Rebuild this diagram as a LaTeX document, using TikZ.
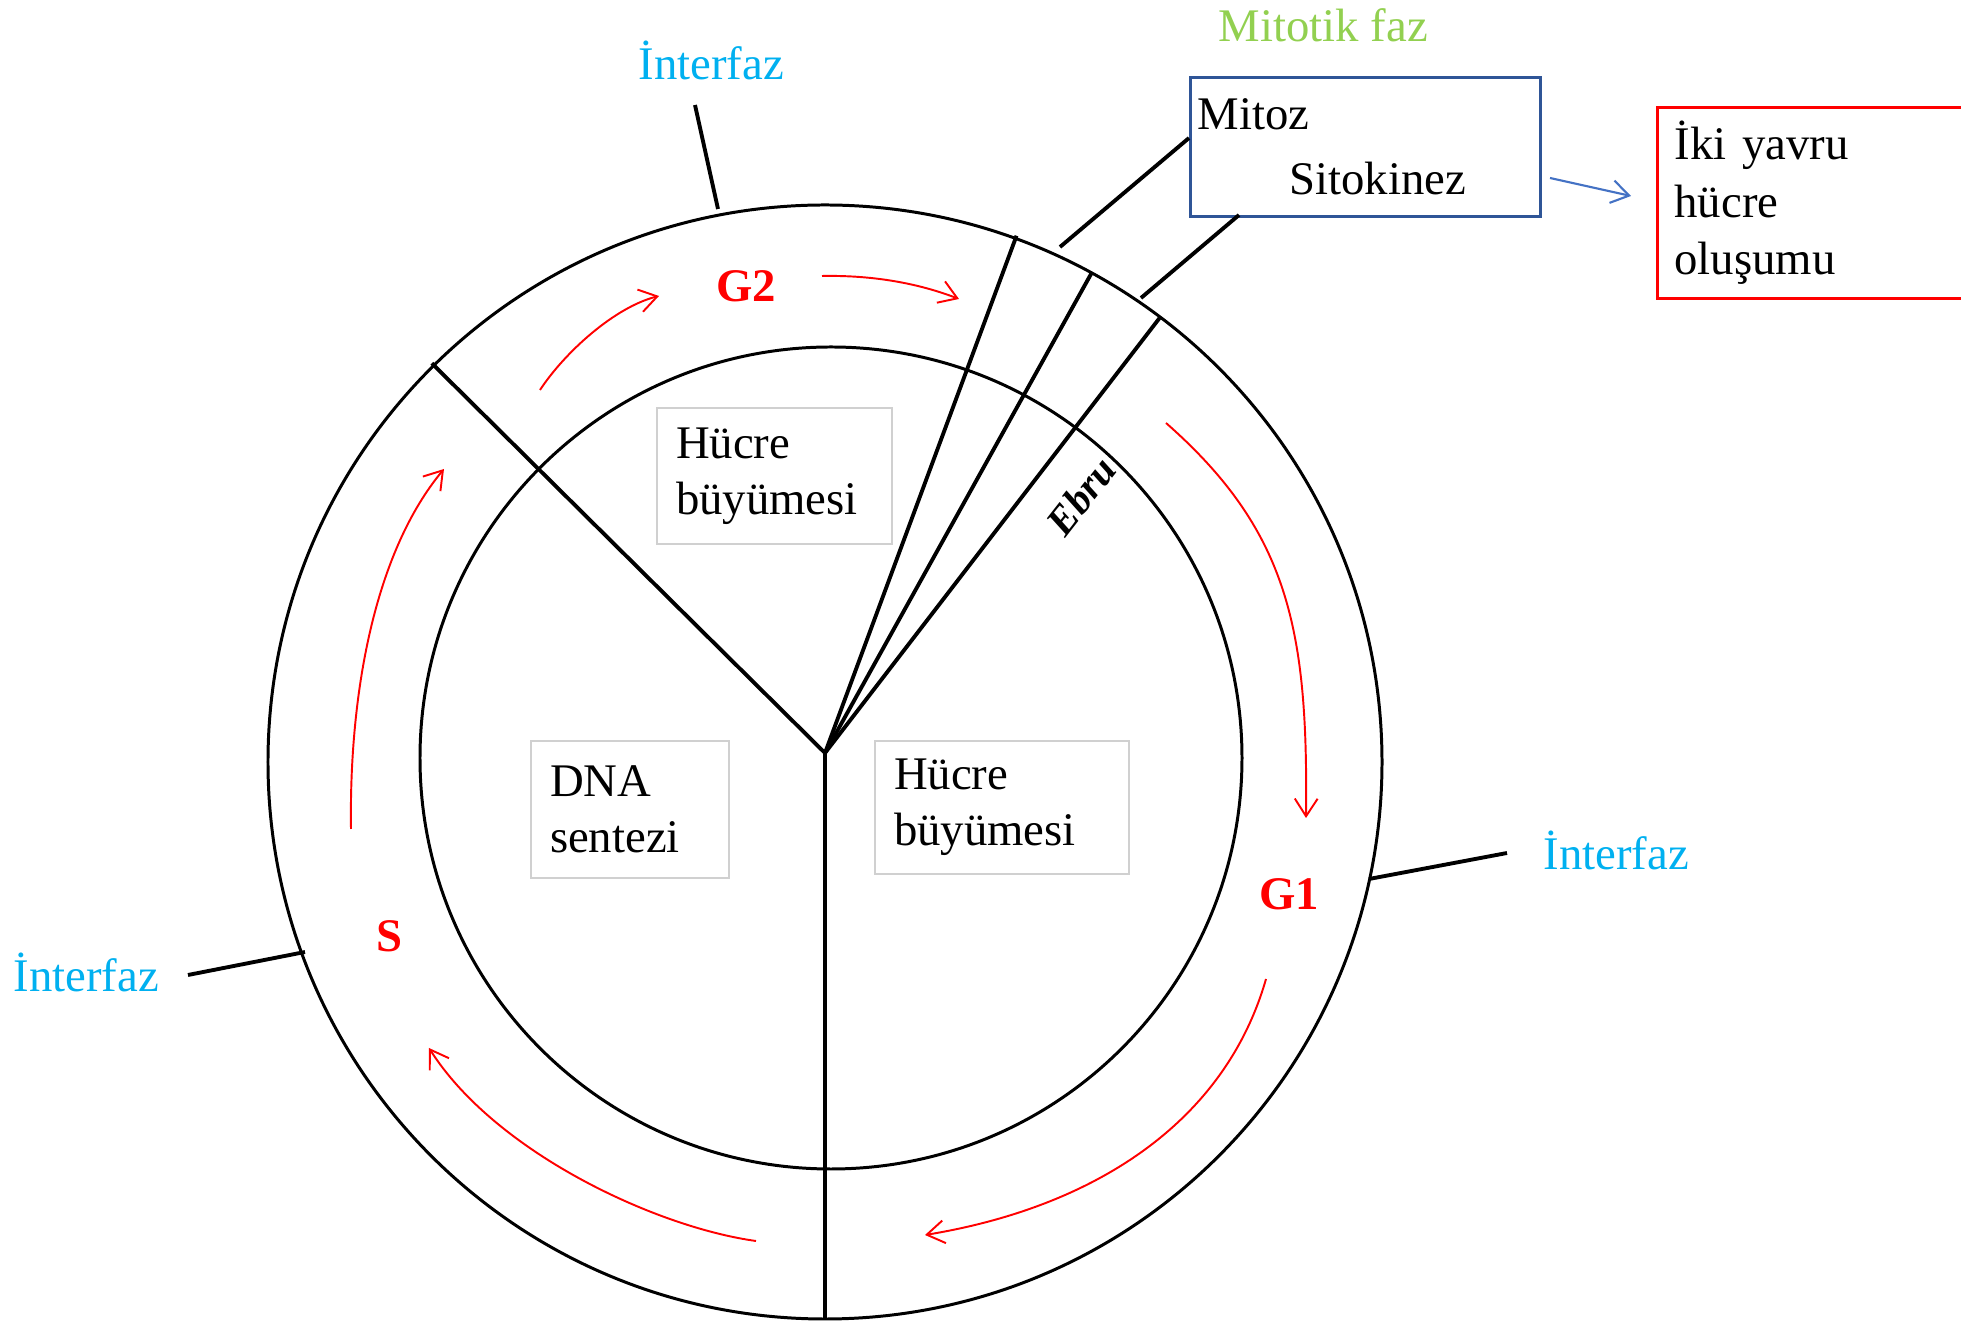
\documentclass[tikz,border=0pt]{standalone}
\usepackage{fontspec}
\setmainfont{Liberation Serif}
\usetikzlibrary{arrows.meta}
\definecolor{interfaz}{HTML}{00B0F0}
\definecolor{mitotik}{HTML}{92D050}
\definecolor{boxblue}{HTML}{2F5597}
\definecolor{arrowblue}{HTML}{4472C4}
\definecolor{boxgray}{HTML}{D0D0D0}
\begin{document}
\begin{tikzpicture}[
  every node/.style={font=\fontsize{13.3}{16}\selectfont},
  wall/.style={line width=1.1pt},
  cyclearrow/.style={red, line width=0.55pt, -{Straight Barb[length=5pt,width=6.5pt]}},
  cellbox/.style={draw=boxgray, line width=0.6pt, anchor=north west, align=left, inner xsep=0.19cm},
  phase/.style={red, font=\fontsize{13.3}{16}\selectfont\bfseries, anchor=base},
  itext/.style={interfaz, anchor=base west, inner sep=0pt}]
  \useasboundingbox (-8.25,-5.64) rectangle (11.36,7.62);
  % the two rings
  \draw[line width=0.85pt] (0,0) circle (5.57);
  \draw[line width=0.85pt] (0.06,0.04) circle (4.11);
  % spokes from the hub
  \coordinate (hub) at (0,0.09);
  \coordinate (sdown) at (270:5.58);
  \coordinate (sleft) at (134.6:5.6);
  \coordinate (sa) at (70:5.6);
  \coordinate (sb) at (61.4:5.58);
  \coordinate (sc) at (53:5.56);
  \foreach \s in {sdown,sleft,sa,sb,sc}
    \draw[wall] (hub) -- (\s);
  % interfaz ticks
  \coordinate (ttop1) at (-1.07,5.53);   \coordinate (ttop2) at (-1.30,6.57);
  \coordinate (tright1) at (5.44,-1.17); \coordinate (tright2) at (6.82,-0.91);
  \coordinate (tleft1) at (-5.20,-1.90); \coordinate (tleft2) at (-6.37,-2.13);
  \draw[wall] (ttop1) -- (ttop2);
  \draw[wall] (tright1) -- (tright2);
  \draw[wall] (tleft1) -- (tleft2);
  \node[itext] (intop) at (-1.87,6.82) {İnterfaz};
  \node[itext] (inright) at (7.18,-1.08) {İnterfaz};
  \node[itext] (inleft) at (-8.12,-2.30) {İnterfaz};
  % mitotic phase
  \node[mitotik, anchor=base west, inner sep=0pt] (mitfaz) at (3.93,7.20) {Mitotik faz};
  \node[draw=boxblue, line width=0.85pt, anchor=north west, minimum width=3.5cm, minimum height=1.39cm,
        text width=3.36cm, inner xsep=0.07cm, align=left] (mitbox) at (3.64,6.86)
        {Mitoz\\[2.5pt]\hspace*{0.92cm}Sitokinez};
  \coordinate (ma1) at (2.35,5.15); \coordinate (ma2) at (3.64,6.24);
  \coordinate (mb1) at (3.16,4.64); \coordinate (mb2) at (4.14,5.47);
  \draw[wall] (ma1) -- (ma2);
  \draw[wall] (mb1) -- (mb2);
  \node[draw=red, line width=0.85pt, anchor=north west, minimum width=3.4cm, minimum height=1.91cm,
        text width=3.06cm, inner xsep=0.17cm, align=left, font=\fontsize{13.3}{16.4}\selectfont] (ikibox) at (8.31,6.56)
        {İki yavru\\hücre\\oluşumu};
  \coordinate (ba1) at (7.25,5.84); \coordinate (ba2) at (8.06,5.66);
  \draw[arrowblue, line width=0.6pt, -{Straight Barb[length=5pt,width=6.5pt]}] (ba1) -- (ba2);
  % inside the cell
  \node[cellbox, minimum width=2.35cm, minimum height=1.36cm, text width=1.97cm] (grow1) at (-1.69,3.55) {Hücre\\büyümesi};
  \node[cellbox, minimum width=1.98cm, minimum height=1.37cm, text width=1.60cm] (dna) at (-2.95,0.22) {DNA\\sentezi};
  \node[cellbox, minimum width=2.54cm, minimum height=1.33cm, text width=2.16cm] (grow2) at (0.49,0.22) {Hücre\\büyümesi};
  % phases and cycle arrows
  \node[phase] (g2) at (-0.79,4.60) {G2};
  \node[phase] (g1) at (4.64,-1.48) {G1};
  \node[phase] (s) at (-4.35,-1.90) {S};
  \draw[cyclearrow] (-2.85,3.72) .. controls (-2.6,4.1) and (-2.1,4.55) .. (-1.66,4.66);
  \draw[cyclearrow] (-0.03,4.86) .. controls (0.5,4.87) and (0.95,4.78) .. (1.34,4.63);
  \draw[cyclearrow] (3.41,3.39) .. controls (4.65,2.3) and (4.83,1.3) .. (4.81,-0.56);
  \draw[cyclearrow] (4.41,-2.17) .. controls (4.0,-3.6) and (2.7,-4.45) .. (1.0,-4.73);
  \draw[cyclearrow] (-0.69,-4.79) .. controls (-1.7,-4.65) and (-3.3,-3.9) .. (-3.96,-2.86);
  \draw[cyclearrow] (-4.74,-0.67) .. controls (-4.76,0.7) and (-4.5,2.1) .. (-3.81,2.93);
  \node[rotate=52, inner sep=0pt, font=\fontsize{11.5}{12}\selectfont\bfseries\itshape] (sign) at (2.56,2.66) {Ebru};
\end{tikzpicture}
\end{document}
